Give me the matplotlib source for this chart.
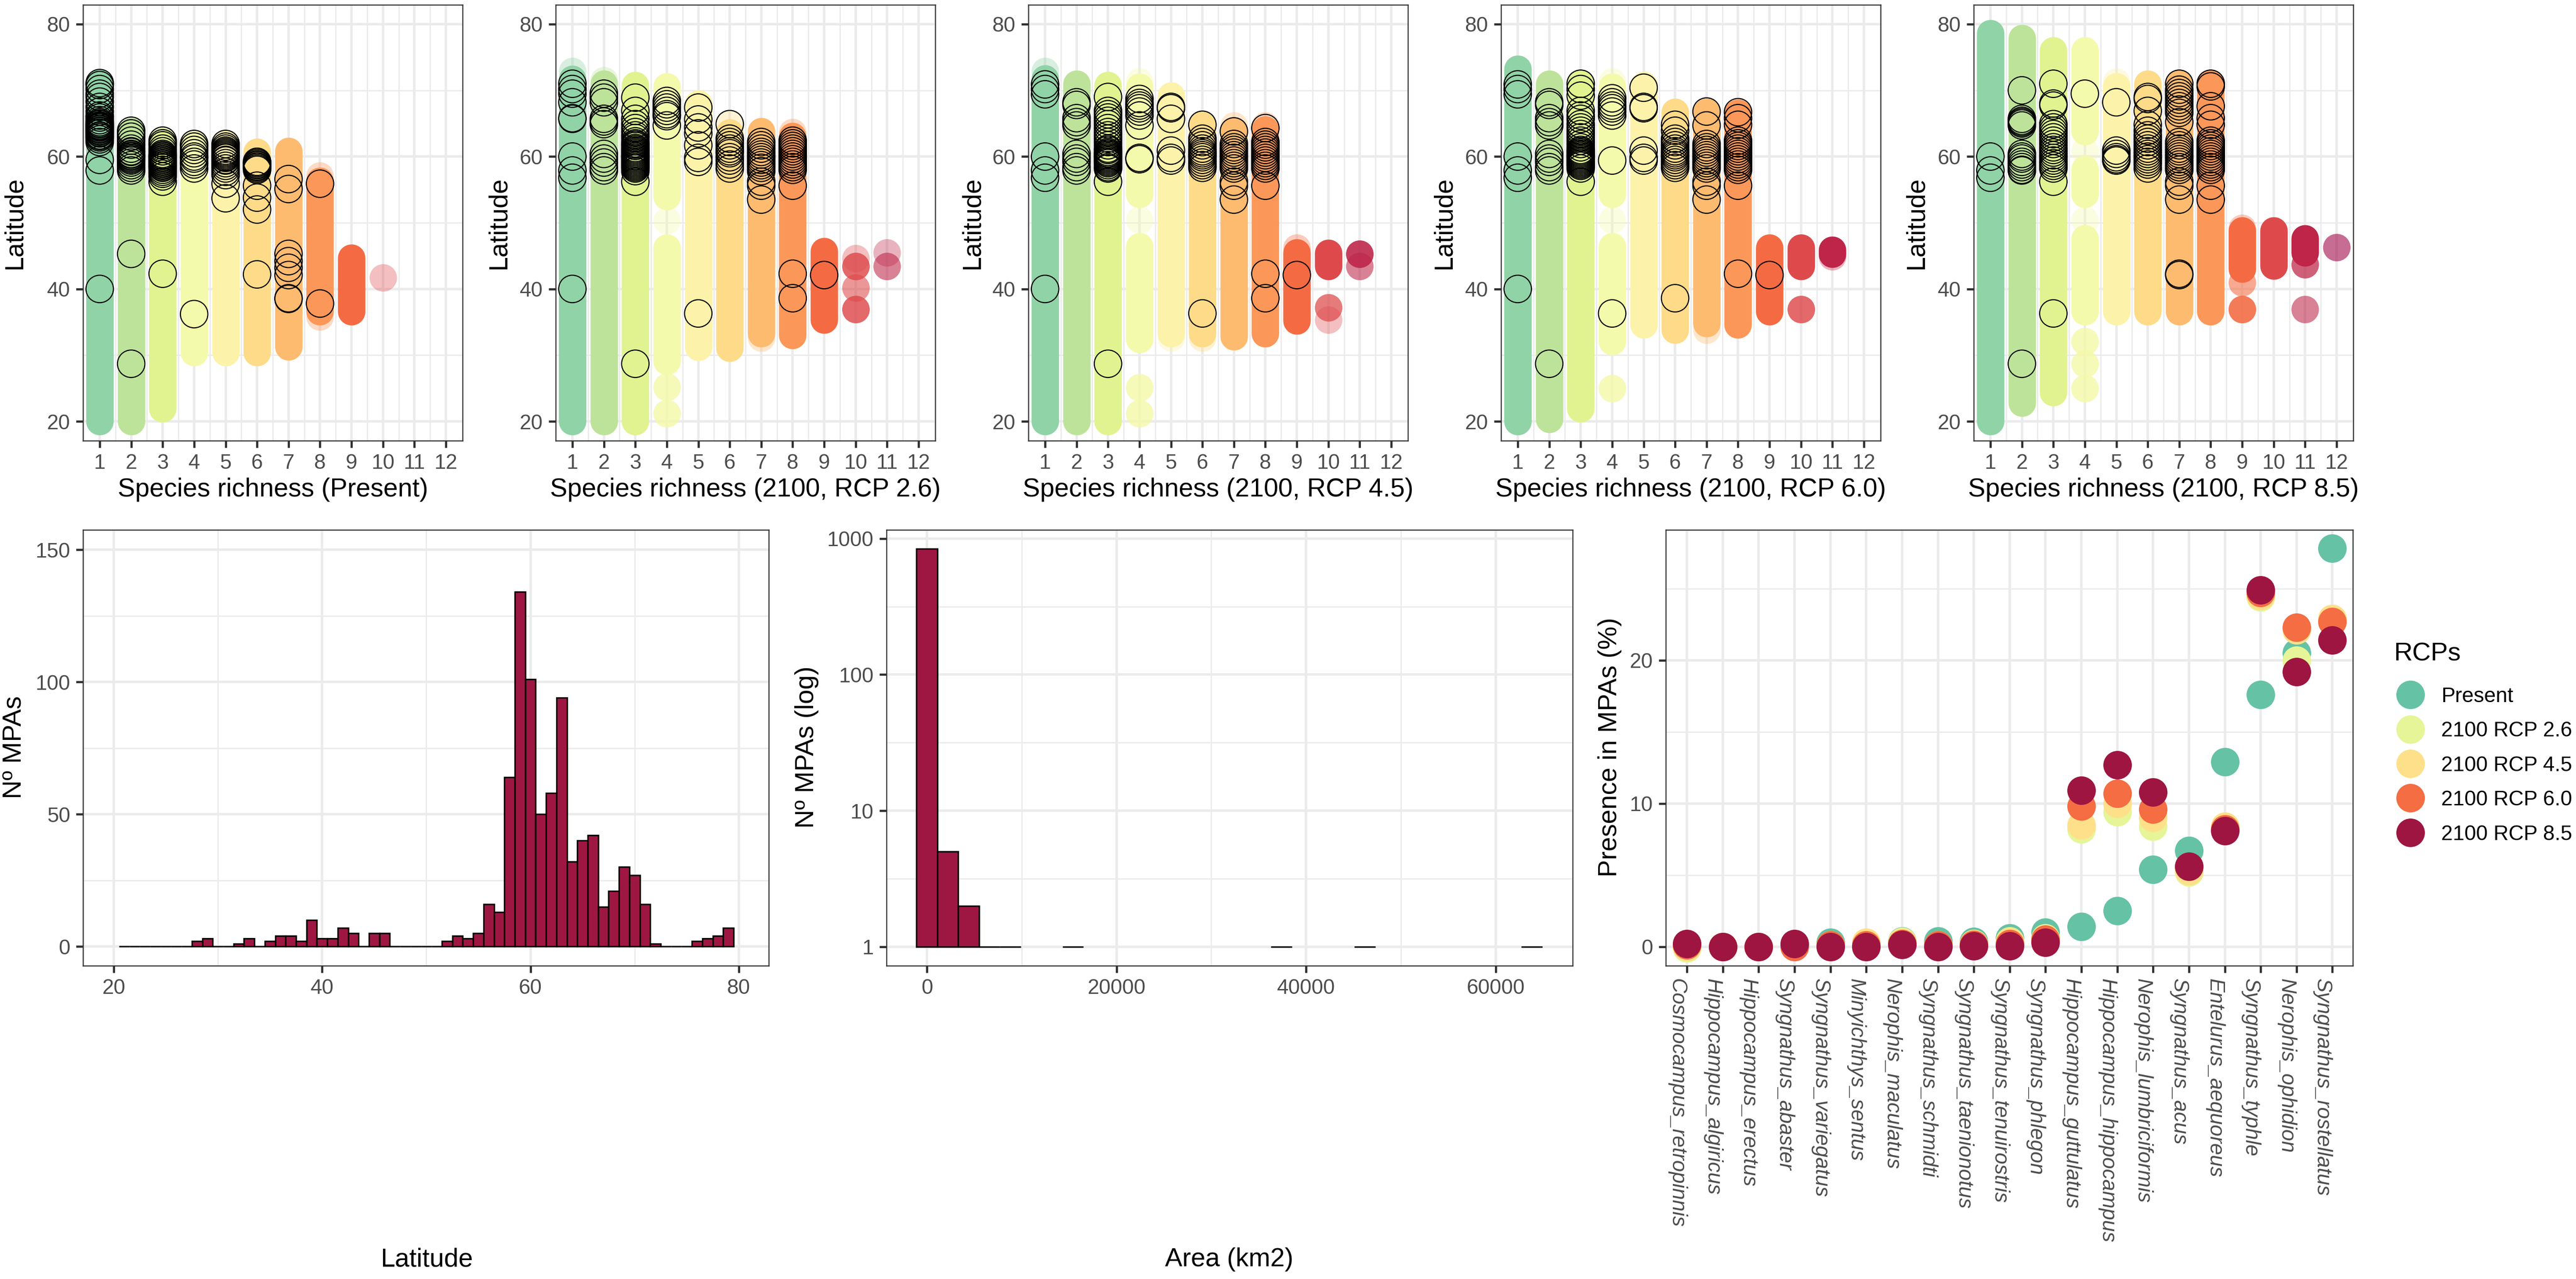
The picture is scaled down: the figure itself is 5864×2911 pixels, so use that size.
import matplotlib
matplotlib.use('Agg')
import matplotlib.pyplot as plt
from matplotlib.lines import Line2D
from matplotlib.ticker import FixedLocator, NullFormatter
from matplotlib.transforms import ScaledTranslation

plt.rcParams['font.family'] = ['Liberation Sans', 'DejaVu Sans']

W, H = 5864, 2911
DPI = 300

richness_colors = ['#90D3A6', '#BDE39A', '#E1F390', '#F4FAAB', '#FDF2A9', '#FDDB88',
                   '#FDBB70', '#FB9759', '#F46B43', '#DE4A4C', '#BE2549', '#9E0142']
rcp_colors = ['#66C2A5', '#E6F598', '#FEE08B', '#F46D43', '#9E1541']
bar_color = '#9E1742'

# Filled columns, (richness, upper latitude, lower latitude)
columns_present = [(1, 71.1, 20), (2, 63.8, 20), (3, 62.3, 21.9), (4, 61.8, 30.4), (5, 61.9, 30.4),
                   (6, 60.7, 30.4), (7, 60.8, 31.3), (8, 56.3, 36.6), (9, 44.7, 36.6)]
columns_26 = [(1, 71.7, 20), (2, 71.0, 20), (3, 70.8, 20), (4, 70.6, 60.6), (4, 59.1, 54), (4, 46.2, 29.1),
              (5, 68, 31.2), (6, 63.6, 31.1), (7, 63.8, 33.3), (8, 63.1, 33), (9, 45.7, 35.3)]
columns_45 = [(1, 71.8, 20), (2, 71, 20), (3, 70.8, 20), (4, 70.5, 54.3), (4, 46.4, 32.4), (5, 69.2, 33.3),
              (6, 64.9, 33.3), (7, 63.8, 32.8), (8, 64.1, 33.3), (9, 45.5, 35.2), (10, 45.4, 43.4)]
columns_60 = [(1, 73.2, 20), (2, 71, 20.3), (3, 71, 21.9), (4, 70.5, 54.3), (4, 46.4, 32.1), (5, 70.8, 34.6),
              (6, 66.7, 33.8), (7, 66.7, 34.8), (8, 66.6, 34.6), (9, 46.2, 36.6), (10, 46.2, 43.4),
              (11, 45.9, 45.3)]
columns_85 = [(1, 78.6, 20), (2, 77.9, 22.8), (3, 76, 24.4), (4, 76, 63.8), (4, 58.1, 54.3), (4, 47.6, 36.6),
              (5, 70.6, 36.6), (6, 71, 36.6), (7, 71, 36.6), (8, 71, 36.6), (9, 48.8, 43),
              (10, 48.8, 43.5), (11, 47.6, 45.5)]

# Single filled points, (richness, latitude, number of stacked points)
singles_present = [(8, 57.1, 1), (8, 35.8, 1), (10, 41.7, 1)]
singles_26 = [(1, 72.9, 1), (2, 71.5, 1), (4, 50.3, 1), (4, 25.2, 4), (4, 21.2, 4), (6, 64.9, 1),
              (7, 32.6, 1), (8, 63.7, 1), (10, 44.6, 1), (10, 43.4, 4), (10, 40.2, 2), (10, 36.9, 4),
              (11, 45.5, 1), (11, 43.4, 2)]
singles_45 = [(1, 72.9, 1), (4, 71.3, 1), (4, 50.4, 1), (4, 25.1, 4), (4, 21.2, 4), (5, 32.6, 1), (6, 32.6, 1),
              (7, 64.7, 1), (8, 64.7, 1), (9, 46.2, 1), (10, 37.2, 3), (10, 35.3, 1), (11, 45.3, 5), (11, 43.4, 2)]
singles_60 = [(4, 71.3, 1), (4, 50.4, 1), (4, 25, 4), (7, 33.8, 1), (10, 36.9, 4), (11, 44.9, 1)]
singles_85 = [(4, 60.9, 1), (4, 50.4, 1), (4, 32.1, 4), (4, 28.7, 4), (4, 25, 4), (5, 71.3, 1), (9, 49.2, 1),
              (9, 41, 2), (9, 36.9, 5), (11, 43.7, 3), (11, 36.9, 2), (12, 46.3, 2)]

# MPA latitudes, by richness
mpas_present = {
    1: [71.1, 70.8, 70.2, 69.5, 69, 68.3, 67.5, 66.8, 66.2, 65.9, 65.5, 65.2, 65, 64.9, 64.7, 64.6, 64.5, 64.4, 64.2,
        64.1, 63.9, 63.8, 63.6, 63.5, 63.2, 63.1, 62.9, 62.6, 62.2, 59.5, 57.9, 40],
    2: [63.9, 63.5, 63, 62.4, 61.8, 61.2, 60.8, 60.7, 60.4, 60.3, 60.1, 60, 59.8, 59.6, 59.4, 59.1, 58.7, 58.3, 57.9,
        45.3, 28.7],
    3: [62.4, 62, 61.7, 61.2, 60.8, 60.4, 60.2, 60.1, 59.9, 59.8, 59.6, 59.5, 59.3, 59.2, 59, 58.9, 58.7, 58.6, 58.4,
        58.3, 58, 57.7, 57.4, 57, 56.2, 42.3],
    4: [61.9, 61.5, 61, 60.5, 60, 59.7, 59.2, 58.8, 58.2, 36.2],
    5: [61.9, 61.5, 61.2, 60.9, 60.7, 60.5, 60.3, 60.1, 59.9, 59.8, 59.5, 59.4, 59, 58.6, 58.2, 57.7, 57.2, 55.9, 53.7],
    6: [59.2, 59.2, 59, 58.8, 58.7, 58.5, 58.4, 58.2, 58, 55.6, 53.8, 52, 42.2],
    7: [56.6, 55.1, 45.3, 44.2, 43.2, 42.1, 38.6, 38.5],
    8: [55.9, 37.8],
}
mpas_26 = {
    1: [71, 70.2, 69.5, 68.2, 65.8, 65.7, 60, 57.9, 56.8, 40],
    2: [69.5, 68.9, 68.2, 65.7, 65.3, 64.9, 60.4, 59.7, 59.1, 58.4, 57.9],
    3: [68.9, 66.9, 65.7, 64.9, 64.3, 63.7, 63.2, 62.8, 62.3, 62, 61.8, 61.6, 61.3, 61.1, 60.9, 60.7, 60.5, 60.3, 60.1,
        60, 59.8, 59.6, 59.4, 59.2, 59, 58.8, 58.6, 58.4, 58.2, 57.8, 56.2, 28.7],
    4: [68.4, 67.9, 67.4, 66.9, 66.4, 66.1, 64.7],
    5: [67.4, 65.6, 64.4, 63.5, 61.7, 59.8, 59.2, 36.3],
    6: [64.9, 62.7, 62.2, 61.7, 61.2, 60.8, 60.5, 59.9, 59.4, 58.8, 58.2],
    7: [62.2, 61.7, 61.2, 60.7, 60.3, 59.9, 59.5, 59.1, 58.7, 58.3, 57.8, 56.2, 55.6, 53.5],
    8: [62.4, 62, 61.6, 61.2, 60.8, 60.4, 60, 59.6, 59.2, 58.8, 58.4, 58, 55.6, 42.3, 38.6],
    9: [42.1],
}
mpas_45 = {
    1: [70.9, 70.2, 69.4, 60, 57.9, 56.8, 40],
    2: [68.2, 67.8, 65.8, 65.2, 64.7, 60.4, 59.7, 59.2, 58.4, 57.9],
    3: [69, 66.9, 66.4, 65.9, 65.4, 64.9, 64.3, 63.7, 63.2, 62.7, 62.2, 61.7, 61.2, 61, 60.7, 60.5, 60.4, 60.2, 60, 59.8,
        59.6, 59.4, 59.2, 59, 58.7, 58.4, 58.2, 56.2, 28.7],
    4: [68.7, 68.1, 67.7, 67.3, 66.8, 66.2, 64.7, 59.8, 59.6],
    5: [67.5, 67.3, 65.7, 60.9, 59.8, 59.4],
    6: [64.8, 62.7, 62.2, 61.7, 61.2, 60.8, 60.5, 60.2, 59.9, 59.5, 59.1, 58.7, 58.3, 36.3],
    7: [63.8, 61.9, 61.4, 61, 60.6, 60.2, 59.8, 59.4, 59, 58.6, 58.2, 56.2, 55.6, 53.5],
    8: [64.3, 62.2, 61.8, 61.4, 61, 60.6, 60.2, 59.8, 59.4, 59, 58.6, 58.2, 55.6, 42.3, 38.6],
    9: [42.1],
}
mpas_60 = {
    1: [70.9, 70.2, 69.4, 60, 57.9, 56.8, 40],
    2: [68.2, 67.8, 65.8, 65.2, 64.7, 60.4, 59.7, 59.2, 58.4, 57.9, 28.7],
    3: [71, 70.2, 69.2, 66.9, 66.2, 65.7, 64.9, 64.4, 63.9, 63.4, 62.9, 62.4, 61.9, 61.4, 61, 60.8, 60.6, 60.4, 60.2,
        60, 59.8, 59.6, 59.4, 59.2, 59, 58.8, 58.6, 58.2, 56.2],
    4: [68.8, 68.2, 67.7, 67.3, 66.8, 66.2, 59.4, 36.3],
    5: [70.4, 67.5, 67.3, 60.9, 59.8, 59.4],
    6: [64.8, 63.9, 62.7, 62.2, 61.7, 61.2, 60.8, 60.5, 60.2, 59.9, 59.5, 59.1, 58.7, 58.3, 38.6],
    7: [66.8, 64.7, 61.9, 61.4, 61, 60.6, 60.2, 59.8, 59.4, 59, 58.6, 58.2, 56.2, 55.6, 53.5],
    8: [66.7, 65.8, 64.8, 62.4, 62, 61.6, 61.2, 60.8, 60.4, 60, 59.6, 59.2, 58.8, 58.4, 58, 55.6, 42.3],
    9: [42.1],
}
mpas_85 = {
    1: [60, 57.9, 56.8],
    2: [70, 65.7, 65.4, 65.2, 65, 64.7, 60.4, 60, 59.7, 59.2, 58.8, 58.4, 58, 57.9, 28.7],
    3: [71, 68, 67.7, 64.9, 64.4, 63.9, 63.4, 62.9, 62.4, 61.9, 61.4, 61, 60.6, 60.2, 59.8, 59.4, 59, 58.6, 58.2,
        56.2, 36.3],
    4: [69.5],
    5: [68.2, 60.9, 60.4, 59.9, 59.6, 59.4],
    6: [69, 68.7, 66.9, 64.8, 63.9, 63.2, 62.7, 62.2, 61.7, 61.2, 60.8, 60.4, 60, 59.6, 59.2, 58.8, 58.2],
    7: [71, 70.1, 69.6, 69.1, 68.6, 68.1, 67.6, 67.1, 66.6, 65.2, 62.2, 61.7, 61.2, 60.8, 60.4, 60, 59.6, 59.2,
        58.8, 58.4, 58, 56.2, 55.6, 53.5, 42.3, 42.1],
    8: [71, 70.6, 67.6, 65.8, 64.8, 62.4, 62, 61.6, 61.2, 60.8, 60.4, 60, 59.6, 59.2, 58.8, 58.4, 58, 55.6, 53.5],
}
xlabels_top = ['Species richness (Present)', 'Species richness (2100, RCP 2.6)', 'Species richness (2100, RCP 4.5)',
               'Species richness (2100, RCP 6.0)', 'Species richness (2100, RCP 8.5)']
columns_all = [columns_present, columns_26, columns_45, columns_60, columns_85]
singles_all = [singles_present, singles_26, singles_45, singles_60, singles_85]
mpas_all = [mpas_present, mpas_26, mpas_45, mpas_60, mpas_85]

# Latitude histogram
lat_bins = list(range(21, 80))
lat_counts = [0, 0, 0, 0, 0, 0, 0, 2, 3, 0, 0, 1, 3, 0, 2, 4, 4, 2, 10, 3, 3, 7, 5, 0, 5, 5, 0, 0, 0, 0, 0,
              2, 4, 3, 5, 16, 13, 64, 134, 101, 50, 58, 94, 32, 40, 42, 15, 21, 30, 27, 16, 1, 0, 0, 0, 2, 3, 4, 7]

# Area histogram
area_bins = [0, 2200, 4400, 6600, 8800, 15400, 37400, 46200, 63800]
area_counts = [840, 5, 2, 1, 1, 1, 1, 1, 1]

# Presence in MPAs
species = ['Cosmocampus_retropinnis', 'Hippocampus_algiricus', 'Hippocampus_erectus', 'Syngnathus_abaster',
           'Syngnathus_variegatus', 'Minyichthys_sentus', 'Nerophis_maculatus', 'Syngnathus_schmidti',
           'Syngnathus_taenionotus', 'Syngnathus_tenuirostris', 'Syngnathus_phlegon', 'Hippocampus_guttulatus',
           'Hippocampus_hippocampus', 'Nerophis_lumbriciformis', 'Syngnathus_acus', 'Entelurus_aequoreus',
           'Syngnathus_typhle', 'Nerophis_ophidion', 'Syngnathus_rostellatus']
rcp_names = ['Present', '2100 RCP 2.6', '2100 RCP 4.5', '2100 RCP 6.0', '2100 RCP 8.5']
presence_now = [0.1, 0, 0, 0.1, 0.3, 0.1, 0.4, 0.4, 0.35, 0.6, 1.0, 1.4, 2.5, 5.4, 6.7, 12.9, 17.6, 20.5, 27.8]
presence_26 = [-0.1, 0, 0, 0.1, 0.1, 0.2, 0.35, 0.1, 0.2, 0.4, 0.6, 8.2, 9.4, 8.4, 5.2, 8.3, 24.4, 20.0, 22.7]
presence_45 = [0, 0, 0, 0.1, 0.1, 0.3, 0.3, 0.1, 0.2, 0.35, 0.55, 8.5, 10.0, 9.0, 5.3, 8.4, 24.5, 22.1, 22.9]
presence_60 = [0.1, 0, 0, 0, 0.1, 0.1, 0.2, 0.1, 0.15, 0.2, 0.5, 9.8, 10.7, 9.6, 5.6, 8.2, 24.7, 22.3, 22.7]
presence_85 = [0.2, 0, 0, 0.2, 0, 0, 0.15, 0, 0.05, 0.05, 0.3, 10.9, 12.7, 10.8, 5.6, 8.1, 24.9, 19.2, 21.4]
presence_all = [presence_now, presence_26, presence_45, presence_60, presence_85]


def make_axes(left, right, top, bottom):
    return fig.add_axes([left / W, 1 - bottom / H, (right - left) / W, (bottom - top) / H])


def style_axes(ax, tick_size=11.45):
    ax.set_axisbelow(True)
    ax.grid(True, which='major', color='#ebebeb', lw=1.35)
    ax.grid(True, which='minor', color='#ebebeb', lw=0.7)
    ax.tick_params(which='major', length=3.8, width=1.2, color='#333333', labelcolor='#4d4d4d',
                   labelsize=tick_size, pad=3.2)
    ax.tick_params(which='minor', length=0)
    for s in ax.spines.values():
        s.set_linewidth(0.6)
        s.set_color('#333333')


def px_text(x, y, s, **kw):
    fig.text(x / W, 1 - y / H, s, ha='center', va='center', **kw)


fig = plt.figure(figsize=(W / DPI, H / DPI), dpi=DPI)

# Top row
top_lefts = [189, 1265, 2341, 3417, 4493]
ylabel_x = [33, 1135, 2213, 3287, 4362]
for i in range(5):
    left = top_lefts[i]
    ax = make_axes(left, left + 864, 11, 1003)
    style_axes(ax)
    ax.set_xlim(0.47, 12.53)
    ax.set_ylim(17.08, 82.92)
    ax.set_xticks(range(1, 13))
    ax.set_xticks([k + 0.5 for k in range(1, 12)], minor=True)
    ax.set_yticks([20, 40, 60, 80])
    ax.set_yticks([30, 50, 70], minor=True)

    for rich, hi, lo in columns_all[i]:
        ax.plot([rich, rich], [lo, hi], color=richness_colors[rich - 1], lw=15,
                solid_capstyle='round', zorder=2)
    for rich, lat, n in singles_all[i]:
        ax.scatter([rich] * n, [lat] * n, s=225, color=richness_colors[rich - 1], alpha=0.35,
                   linewidths=0, zorder=2.5)
    for rich, lats in mpas_all[i].items():
        ax.scatter([rich] * len(lats), lats, s=225, facecolors='none', edgecolors='black',
                   linewidths=0.6, zorder=3)

    px_text(left + 432, 1114, xlabels_top[i], fontsize=14.2)
    px_text(ylabel_x[i], 508, 'Latitude', fontsize=14.2, rotation=90)

# Latitude histogram
ax = make_axes(189, 1750, 1206, 2198)
style_axes(ax)
ax.set_xlim(17.05, 82.87)
ax.set_ylim(-7.3, 157.5)
ax.bar(lat_bins, lat_counts, width=1, color=bar_color, edgecolor='black', linewidth=0.8, zorder=3)
ax.set_xticks([20, 40, 60, 80])
ax.set_xticks([30, 50, 70], minor=True)
ax.set_yticks([0, 50, 100, 150])
ax.set_yticks([25, 75, 125], minor=True)
px_text(971, 2867, 'Latitude', fontsize=14.2)
px_text(33, 1701, 'Nº MPAs', fontsize=14.2, rotation=90)

# Area histogram
ax = make_axes(2018, 3580, 1206, 2198)
style_axes(ax)
ax.set_yscale('log')
ax.set_xlim(-4262, 68108)
ax.set_ylim(0.725, 1159)
ax.bar(area_bins, [c - 1 for c in area_counts], bottom=1, width=2200, color=bar_color, edgecolor='black',
       linewidth=0.8, zorder=3)
ax.set_xticks([0, 20000, 40000, 60000])
ax.set_xticks([10000, 30000, 50000], minor=True)
ax.set_yticks([1, 10, 100, 1000])
ax.set_yticklabels(['1', '10', '100', '1000'])
ax.yaxis.set_minor_locator(FixedLocator([3.162, 31.62, 316.2]))
ax.yaxis.set_minor_formatter(NullFormatter())
px_text(2798, 2867, 'Area (km2)', fontsize=14.2)
px_text(1837, 1701, 'Nº MPAs (log)', fontsize=14.2, rotation=90)

# Presence in MPAs
ax = make_axes(3792, 5356, 1206, 2198)
style_axes(ax)
ax.set_xlim(0.41, 19.57)
ax.set_ylim(-1.33, 29.1)
ax.set_yticks([0, 10, 20])
ax.set_yticks([5, 15, 25], minor=True)
ax.set_xticks(range(1, 20))
ax.set_xticklabels(species, rotation=270, style='italic', ha='center', va='top')
# species names sit a little left of their ticks
shift = ScaledTranslation(-5.5 / 72, 0, fig.dpi_scale_trans)
for lab in ax.get_xticklabels():
    lab.set_transform(lab.get_transform() + shift)
positions = list(range(1, 20))
for vals, c in zip(presence_all, rcp_colors):
    ax.scatter(positions, vals, s=243, color=c, linewidths=0, zorder=3)
px_text(3665, 1701, 'Presence in MPAs (%)', fontsize=14.2, rotation=90)

handles = [Line2D([], [], marker='o', ls='', ms=15.6, mfc=c, mec='none') for c in rcp_colors]
ax.legend(handles, rcp_names, frameon=False, fontsize=11.45, loc='upper left',
          bbox_to_anchor=(5449 / W, 1 - 1563 / H), bbox_transform=fig.transFigure,
          labelspacing=0.7, handlelength=1.6, handletextpad=0.67, borderpad=0, borderaxespad=0)
px_text(5526, 1489, 'RCPs', fontsize=14)

fig.savefig('out.png', dpi=DPI, facecolor='white')
